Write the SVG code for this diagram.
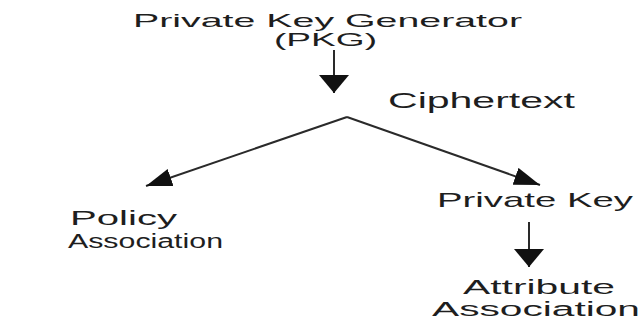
<svg xmlns="http://www.w3.org/2000/svg" width="642" height="320" viewBox="0 0 642 320">
<style>
text{font-family:"Liberation Sans",Arial,sans-serif;fill:#1e1e1e}
.c{stroke:#2a2a2a;stroke-width:2;fill:none}
</style>
<defs>
<marker id="hv" markerUnits="userSpaceOnUse" viewBox="0 0 18 30" markerWidth="18" markerHeight="30" refX="18" refY="15" orient="auto"><path d="M0,0 L18,15 L0,30 z" fill="#111"/></marker>
<marker id="hd" markerUnits="userSpaceOnUse" viewBox="0 0 26 18" markerWidth="26" markerHeight="18" refX="26" refY="9" orient="auto"><path d="M0,0 L26,9 L0,18 z" fill="#111"/></marker>
</defs>
<rect width="642" height="320" fill="#fff"/>
<g id="connectors">
<line class="c" x1="334" y1="50" x2="334" y2="93" marker-end="url(#hv)"/>
<line class="c" x1="347" y1="117" x2="146" y2="186" marker-end="url(#hd)"/>
<line class="c" x1="347" y1="117" x2="540" y2="185" marker-end="url(#hd)"/>
<line class="c" x1="529" y1="222" x2="529" y2="267" marker-end="url(#hv)"/>
</g>
<g id="pkg">
<text x="133" y="27" font-size="19" textLength="389" lengthAdjust="spacingAndGlyphs">Private Key Generator</text>
<text x="274" y="46" font-size="19" textLength="103" lengthAdjust="spacingAndGlyphs">(PKG)</text>
</g>
<g id="ciphertext">
<text x="388" y="108" font-size="22" textLength="187" lengthAdjust="spacingAndGlyphs">Ciphertext</text>
</g>
<g id="policy">
<text x="70" y="225" font-size="20" textLength="107" lengthAdjust="spacingAndGlyphs">Policy</text>
<text x="68" y="248" font-size="20" textLength="155" lengthAdjust="spacingAndGlyphs">Association</text>
</g>
<g id="privatekey">
<text x="437" y="207" font-size="21" textLength="196" lengthAdjust="spacingAndGlyphs">Private Key</text>
</g>
<g id="attribute">
<text x="463" y="294" font-size="20" textLength="152" lengthAdjust="spacingAndGlyphs">Attribute</text>
<text x="432" y="316" font-size="20" textLength="208" lengthAdjust="spacingAndGlyphs">Association</text>
</g>
</svg>
